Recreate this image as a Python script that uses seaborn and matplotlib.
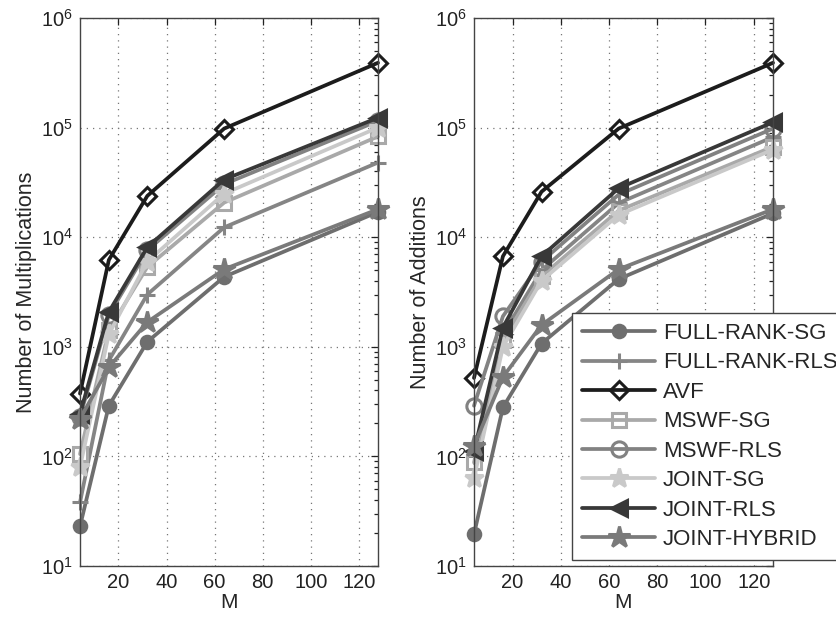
import matplotlib
matplotlib.use("Agg")
import matplotlib.pyplot as plt
import seaborn as sns
import numpy as np
import pandas as pd
from matplotlib.ticker import LogLocator, FixedLocator

sns.set_style("white")
plt.rcParams['font.family'] = ['Liberation Sans', 'DejaVu Sans']
plt.rcParams['mathtext.fontset'] = 'custom'
plt.rcParams['mathtext.rm'] = 'Liberation Sans'

M = [4, 16, 32, 64, 128]
series_names = ["FULL-RANK-SG", "FULL-RANK-RLS", "AVF", "MSWF-SG", "MSWF-RLS",
                "JOINT-SG", "JOINT-RLS", "JOINT-HYBRID"]

# Number of multiplications (left panel)
mult_full_rank_sg = [23, 290, 1110, 4350, 17000]
mult_full_rank_rls = [38, 750, 3000, 12300, 48000]
mult_avf = [374, 6200, 23800, 98000, 390000]
mult_mswf_sg = [105, 1420, 5350, 20700, 83000]
mult_mswf_rls = [230, 1950, 7600, 30500, 115000]
mult_joint_sg = [80, 1300, 6000, 25000, 100000]
mult_joint_rls = [245, 2080, 8100, 33600, 123000]
mult_joint_hybrid = [220, 650, 1680, 5100, 18000]

# Number of additions (right panel)
add_full_rank_sg = [19.5, 280, 1070, 4150, 16500]
add_full_rank_rls = [100, 1300, 5000, 20500, 82000]
add_avf = [520, 6700, 26000, 98000, 390000]
add_mswf_sg = [88, 1150, 4400, 17500, 67000]
add_mswf_rls = [290, 1900, 6000, 24500, 98000]
add_joint_sg = [63, 1000, 4000, 16000, 63000]
add_joint_rls = [111, 1500, 6700, 28000, 112000]
add_joint_hybrid = [125, 530, 1580, 5100, 18000]

mult = [mult_full_rank_sg, mult_full_rank_rls, mult_avf, mult_mswf_sg,
        mult_mswf_rls, mult_joint_sg, mult_joint_rls, mult_joint_hybrid]
adds = [add_full_rank_sg, add_full_rank_rls, add_avf, add_mswf_sg,
        add_mswf_rls, add_joint_sg, add_joint_rls, add_joint_hybrid]

colors = ["#6e6e6e", "#858585", "#1c1c1c", "#a9a9a9", "#828282",
          "#c9c9c9", "#383838", "#7a7a7a"]
markers = ["o", "+", "D", "s", "o", "*", "<", "*"]
mfcs = ["fill", None, "none", "none", "none", "fill", "fill", "fill"]
msizes = [9, 11, 9, 10, 11, 14, 12, 16]

fig = plt.figure(figsize=(8.37, 6.22), dpi=100)
ax1 = fig.add_axes([80/837, 1-566/622, 298/837, 548/622])
ax2 = fig.add_axes([474/837, 1-566/622, 299/837, 548/622])

for ax, data, ylabel in [(ax1, mult, "Number of Multiplications"),
                         (ax2, adds, "Number of Additions")]:
    for name, vals, c, mk, mf, ms in zip(series_names, data, colors, markers, mfcs, msizes):
        kw = dict(color=c, marker=mk, markersize=ms, linewidth=2.7,
                  markeredgewidth=2.2, markeredgecolor=c, clip_on=False)
        if mf == "none":
            kw["markerfacecolor"] = "none"
        elif mf == "fill":
            kw["markerfacecolor"] = c
        df = pd.DataFrame({"M": M, "v": vals})
        sns.lineplot(data=df, x="M", y="v", ax=ax, label=name, **kw)
    ax.set_yscale("log")
    ax.set_xlim(4, 128)
    ax.set_ylim(10, 1e6)
    ax.xaxis.set_major_locator(FixedLocator([20, 40, 60, 80, 100, 120]))
    ax.yaxis.set_major_locator(LogLocator(base=10, numticks=10))
    ax.yaxis.set_minor_locator(LogLocator(base=10, subs=np.arange(2, 10), numticks=20))
    ax.grid(True, which="major", linestyle=(0, (1, 4)), color="#777777", linewidth=0.9)
    ax.tick_params(which="both", direction="in", top=True, right=True,
                   labelsize=14.5, colors="#222222", width=0.9)
    ax.tick_params(which="major", length=5, pad=5)
    ax.tick_params(which="minor", length=3)
    for sp in ax.spines.values():
        sp.set_color("#444444")
        sp.set_linewidth(1.0)
    ax.set_xlabel("M", fontsize=15, labelpad=1)
    ax.set_ylabel(ylabel, fontsize=15.5, labelpad=3)
    ax.get_legend().remove()

handles, labels = ax2.get_legend_handles_labels()
leg = fig.legend(handles, labels, loc="upper left",
                 bbox_to_anchor=(572/837, 1-313/622), fontsize=16,
                 frameon=True, fancybox=False, handlelength=3.3,
                 handletextpad=0.35, labelspacing=0.38, borderpad=0.45,
                 borderaxespad=0.0)
leg.get_frame().set_edgecolor("#444444")
leg.get_frame().set_linewidth(1.0)
leg.get_frame().set_alpha(1.0)

fig.savefig("out.png", dpi=100)
